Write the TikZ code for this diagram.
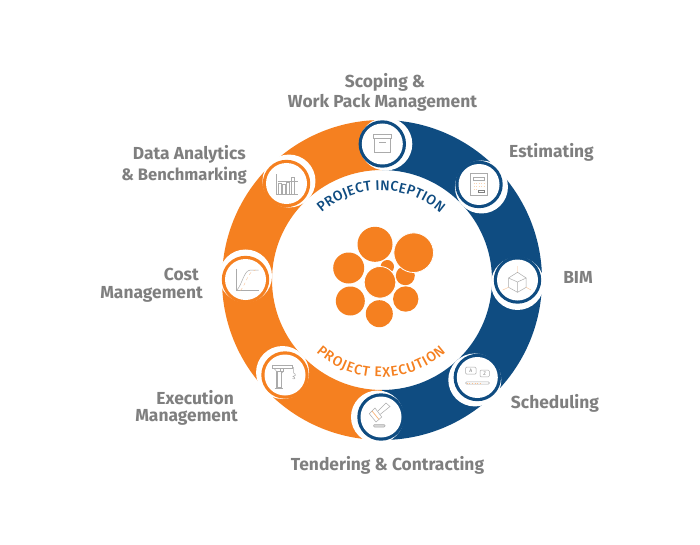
\documentclass[tikz,border=0pt]{standalone}
\usepackage{fontspec}
\setmainfont{Fira Sans}
\newfontfamily\curvefont{Fira Sans Medium}
\usetikzlibrary{decorations.text,calc}
\definecolor{ringorange}{HTML}{F58020}
\definecolor{ringnavy}{HTML}{0F4C81}
\definecolor{labelgray}{HTML}{7F7F7F}
\definecolor{icongray}{HTML}{ABABAB}
\tikzset{
  lbl/.style={font=\bfseries\fontsize{17.4}{17.4}\selectfont,text=labelgray,inner sep=0pt},
  ico/.style={draw=icongray,line width=0.5pt},
  blob/.style={fill=ringorange},
  haloblob/.style={fill=ringorange,draw=white,line width=0.8pt},
}
% #1 x, #2 y, #3 colour, #4 icon code
\newcommand{\stationdisc}[4]{%
  \pgfmathsetmacro{\dxx}{#1-382}\pgfmathsetmacro{\dyy}{#2-280}%
  \pgfmathsetmacro{\hx}{#1-3.5*\dyy/136}\pgfmathsetmacro{\hy}{#2+3.5*\dxx/136}%
  \fill[white] (\hx,\hy) circle (26.5);
  \fill[#3] (#1,#2) circle (23.7);
  \fill[white] (#1,#2) circle (20.5);
  \begin{scope}[shift={(#1,#2)}]#4\end{scope}
}
\begin{document}
\begin{tikzpicture}[x=1pt,y=-1pt]
\useasboundingbox (0,0) rectangle (700,545);
\fill[white] (0,0) rectangle (700,545);
% ring
\fill[ringorange] (382,120) arc[start angle=-90,end angle=-270,radius=160] -- (382,390) arc[start angle=90,end angle=270,radius=110] -- cycle;
\fill[ringnavy] (382,120) arc[start angle=-90,end angle=90,radius=160] -- (382,390) arc[start angle=90,end angle=-90,radius=110] -- cycle;
% stations
\stationdisc{382.3}{144}{ringnavy}{%
  \draw[ico] (-9,-10) rectangle (8.7,-6);
  \draw[ico] (-8,-6) rectangle (7.7,8.3);
  \draw[ico,line width=1pt] (-3.3,-1) -- (3.3,-1);}
\stationdisc{479}{184.5}{ringnavy}{%
  \draw[ico] (-8.3,-11) rectangle (8.3,10.7);
  \draw[ico] (-5.7,-7.3) rectangle (5.7,-4.3);
  \draw[ringorange!35,line width=0.5pt,dotted] (-5.5,-1.5) -- (5.5,-1.5) (-5.5,1.5) -- (5.5,1.5) (-5.5,4.5) -- (-1.5,4.5);
  \draw[draw=gray,line width=0.7pt] (-1,6.3) rectangle (5.7,8.3);}
\stationdisc{517.5}{280}{ringnavy}{%
  \draw[ico] (0,-7.7) -- (8.7,-2) -- (8.7,7.3) -- (0,12.3) -- (-9,7.3) -- (-9,-2) -- cycle;
  \draw[ico] (-9,-2) -- (0,2) -- (8.7,-2) (0,2) -- (0,12.3);
  \draw[ringorange!50,line width=0.4pt] (0,-7.7) -- (0,-14) (-9,7.3) -- (-14.7,10) (8.7,7.3) -- (13.5,10);}
\stationdisc{477.3}{377.5}{ringnavy}{%
  \draw[ico,rounded corners=1pt] (-11.7,-10.3) rectangle node[font=\fontsize{5}{5}\selectfont,text=gray,inner sep=0pt] (keya) {A} (-1.3,-3.3);
  \draw[ico,rounded corners=1pt] (2.7,-7.3) rectangle node[font=\fontsize{5}{5}\selectfont,text=gray,inner sep=0pt] (keyz) {Z} (12,-0.7);
  \draw[ico,rounded corners=1pt] (-11.7,4.3) rectangle (12,6.7);
  \draw[ringorange!50,line width=0.6pt,dotted] (-10.5,5.5) -- (5,5.5);}
\stationdisc{381}{417}{ringnavy}{%
  \draw[ico] (-11.7,-3.3) -- (-6,-9) -- (0.7,0) -- (-5,5) -- cycle;
  \draw[ico] (-3,-6) -- (5,-14) -- (9,-10.5) -- (-1,-2.5);
  \draw[ringorange!60,line width=0.7pt] (-9,-6) -- (-2,2.5);
  \draw[ico,fill=icongray!50,rounded corners=1pt] (-7.5,7.5) rectangle (4,10);}
\stationdisc{285}{375}{ringorange}{%
  \draw[ico,line width=0.7pt] (-12.3,-10) rectangle (7,-6.5);
  \draw[ico] (-4.7,-6.5) rectangle (-1.3,-3.5);
  \draw[ico] (-9,-3.3) rectangle (-4,12.5);
  \draw[ico] (-7.7,-3.3) -- (-7.7,12.5);
  \draw[ico,line width=0.8pt] (-10.5,13) -- (-2.5,13);
  \draw[ico] (-11,-6.5) -- (-8,-3.3) (-2,-3.3) -- (-4,-1);
  \draw[ico] (8.7,-8) -- (8.7,-2) .. controls (11.5,-1) and (10.5,2) .. (8,1.5) .. controls (11,2.5) and (10,5) .. (7.5,3.5);}
\stationdisc{245.5}{279.5}{ringorange}{%
  \draw[ico,line width=0.6pt] (-9,-11) -- (-9,11) -- (13,11);
  \draw[ico] (-9,11) .. controls (-3,5) and (-2,-9) .. (5,-9.5) -- (13,-9.5);
  \draw[ringorange!50,line width=0.4pt,dashed] (-5,11) .. controls (1,4) and (2,-8) .. (10,-9.5);}
\stationdisc{286.5}{183.5}{ringorange}{%
  \draw[ico,line width=0.6pt] (-10.3,-9.3) -- (-10.3,11.3) -- (11,11.3);
  \draw[ico,line width=0.35pt] (-9,-2.5) -- (11,-2.5);
  \draw[ico,line width=0.35pt] (-8.5,11) -- (-8.5,-0.5) -- (-5.5,-0.5) -- (-5.5,11) (-4,11) -- (-4,0.5) -- (-1.5,0.5) -- (-1.5,11) (0,11) -- (0,-1) -- (3,-1) -- (3,11) (5,11) -- (5,-6) -- (7.5,-6) -- (7.5,11);}
% curved titles
\path[decorate,decoration={text along path,text align={fit to path},
  text={|\curvefont\fontsize{14}{14}\selectfont\color{ringnavy}|PROJECT INCEPTION}}]
  (381,280) ++(228.5:89.5) arc[start angle=228.5,end angle=311.5,radius=89.5];
\path[decorate,decoration={text along path,text align={fit to path},
  text={|\curvefont\fontsize{14}{14}\selectfont\color{ringorange}|PROJECT EXECUTION}}]
  (381,280) ++(132:97) arc[start angle=132,end angle=48,radius=97];
% central cluster
\fill[blob] (387.3,266.7) circle (6.7);
\fill[blob] (405.3,275.7) circle (9.5);
\fill[blob] (375,244.3) circle (17.5);
\fill[blob] (348.7,268) circle (15.5);
\fill[blob] (350.3,301) circle (14.5);
\fill[blob] (405.7,299) circle (12.7);
\fill[blob] (379.3,313.7) circle (13.5);
\filldraw[haloblob] (380,282.3) circle (15.8);
\filldraw[haloblob] (413.7,252.7) circle (19.8);
% labels
\node[lbl] (scoping) at (385,82.5) {Scoping \&};
\node[lbl] (workpack) at (382.5,103) {Work Pack Management};
\node[lbl] (estimating) at (551.5,152) {Estimating};
\node[lbl] (bim) at (578,277) {BIM};
\node[lbl] (scheduling) at (555,403.5) {Scheduling};
\node[lbl] (tendering) at (387.5,465) {Tendering \& Contracting};
\node[lbl,anchor=east] (execution) at (234,398) {Execution};
\node[lbl,anchor=east] (execmgmt) at (238,417) {Management};
\node[lbl,anchor=east] (cost) at (199,274.5) {Cost};
\node[lbl,anchor=east] (costmgmt) at (203,294) {Management};
\node[lbl,anchor=east] (analytics) at (246,154.5) {Data Analytics};
\node[lbl,anchor=east,font=\bfseries\fontsize{16.6}{16.6}\selectfont] (bench) at (247,176) {\& Benchmarking};
\end{tikzpicture}
\end{document}
